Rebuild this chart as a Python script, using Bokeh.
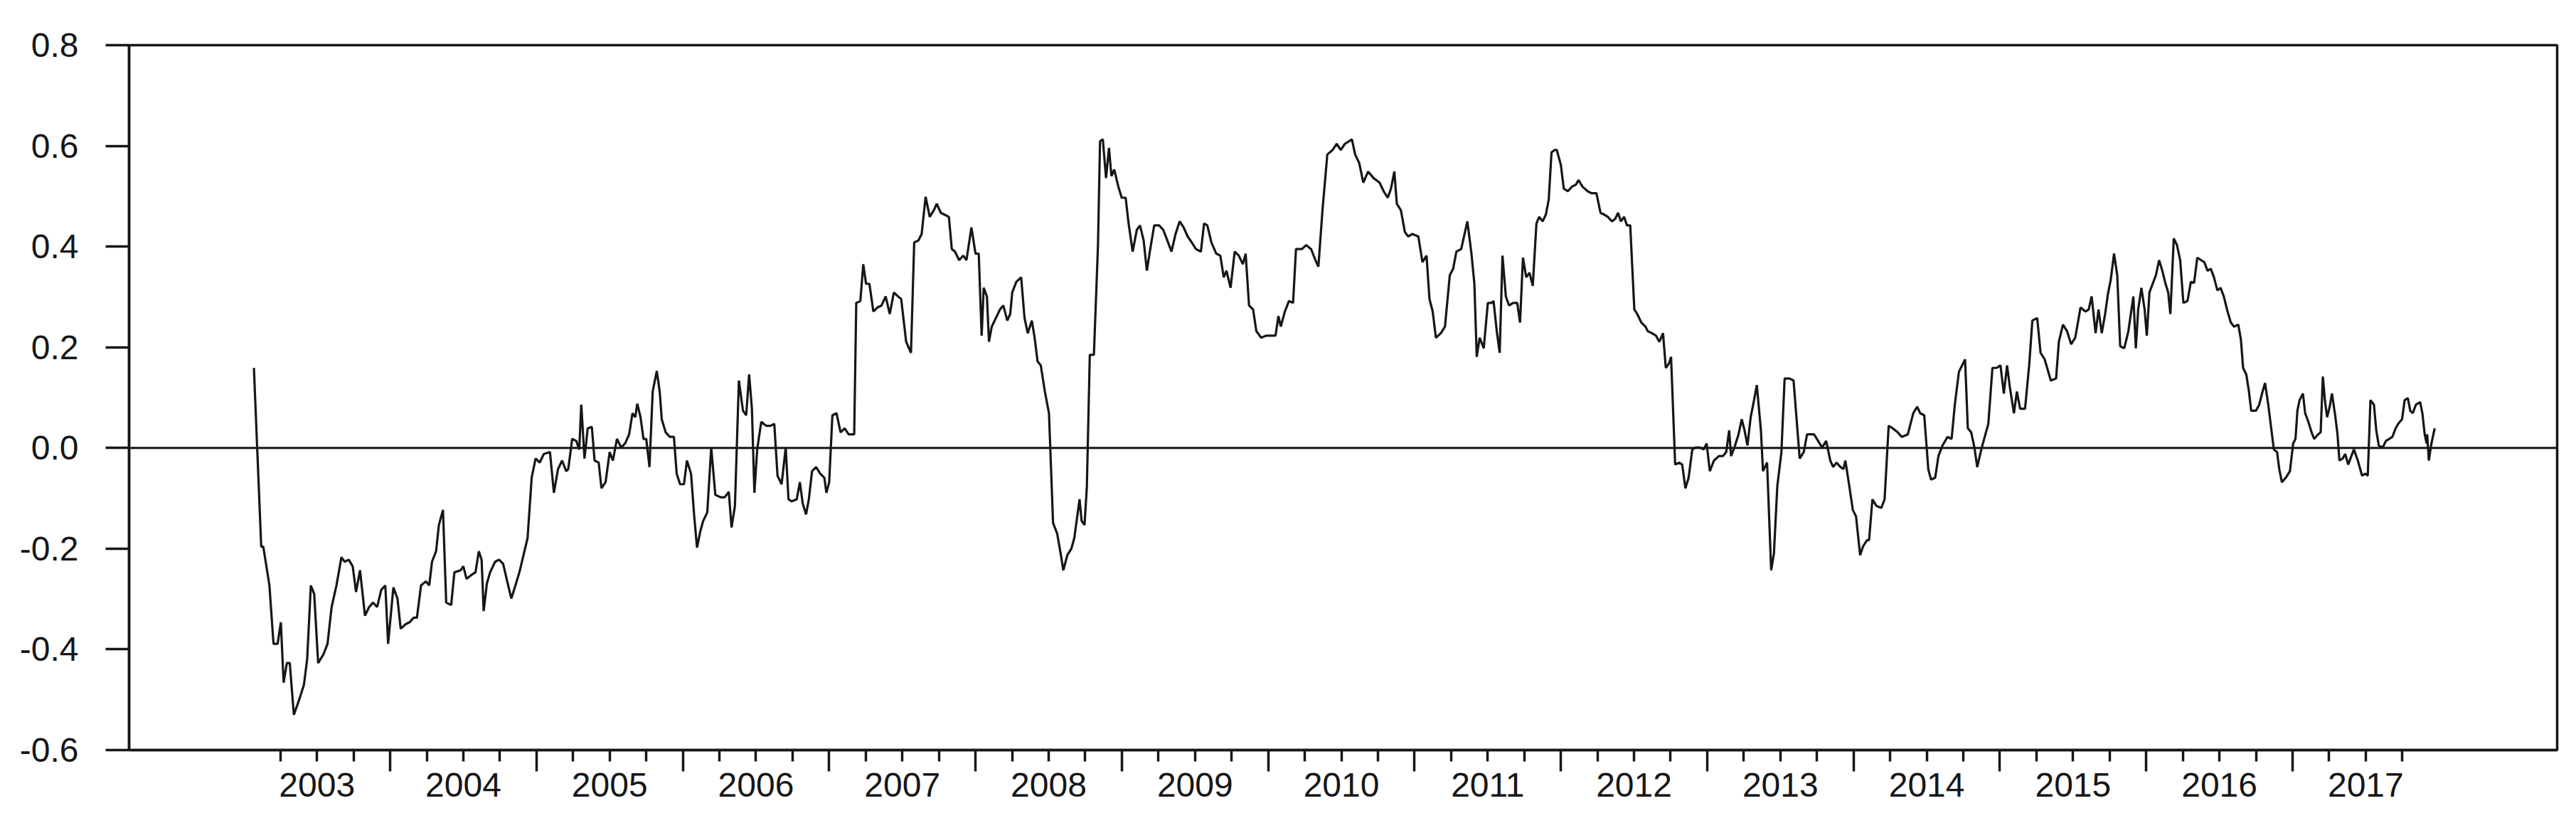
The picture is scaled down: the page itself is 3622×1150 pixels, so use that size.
from bokeh.plotting import figure
from bokeh.models import (LinearAxis, FixedTicker, NumeralTickFormatter,
                          CustomJSTickFormatter, Span, Range1d)
from bokeh.embed import file_html
from bokeh.resources import INLINE

# ---------------- data (decimal year, value) ----------------
year_labels = [str(y) for y in range(2003, 2018)]
y_ticks = [-0.6, -0.4, -0.2, 0.0, 0.2, 0.4, 0.6, 0.8]

t_2003_2006 = [2003.069, 2003.119, 2003.133, 2003.175, 2003.203, 2003.231, 2003.253, 2003.272, 2003.294, 2003.314,
               2003.342, 2003.383, 2003.411, 2003.433, 2003.458, 2003.481, 2003.508, 2003.544, 2003.572, 2003.600,
               2003.633, 2003.667, 2003.689, 2003.717, 2003.744, 2003.767, 2003.794, 2003.828, 2003.856, 2003.883,
               2003.911, 2003.939, 2003.967, 2003.986, 2004.022, 2004.050, 2004.072, 2004.106, 2004.133, 2004.161,
               2004.183, 2004.211, 2004.244, 2004.267, 2004.286, 2004.314, 2004.333, 2004.361, 2004.383, 2004.417,
               2004.439, 2004.481, 2004.500, 2004.522, 2004.556, 2004.583, 2004.606, 2004.625, 2004.639, 2004.661,
               2004.683, 2004.717, 2004.744, 2004.772, 2004.800, 2004.828, 2004.856, 2004.883, 2004.911, 2004.939,
               2004.967, 2004.994, 2005.022, 2005.050, 2005.092, 2005.119, 2005.147, 2005.175, 2005.203, 2005.217,
               2005.244, 2005.272, 2005.292, 2005.306, 2005.328, 2005.350, 2005.378, 2005.397, 2005.425, 2005.444,
               2005.472, 2005.500, 2005.522, 2005.550, 2005.578, 2005.606, 2005.633, 2005.656, 2005.675, 2005.689,
               2005.711, 2005.731, 2005.750, 2005.772, 2005.794, 2005.822, 2005.842, 2005.856, 2005.883, 2005.911,
               2005.939, 2005.958, 2005.981, 2006.008, 2006.028, 2006.056, 2006.078, 2006.097, 2006.119, 2006.139,
               2006.167, 2006.194, 2006.222, 2006.258, 2006.286, 2006.314, 2006.333, 2006.356, 2006.383, 2006.411,
               2006.433, 2006.453, 2006.472, 2006.489, 2006.508, 2006.536, 2006.569, 2006.600, 2006.625, 2006.647,
               2006.675, 2006.703, 2006.722, 2006.744, 2006.778, 2006.800, 2006.819, 2006.842, 2006.861, 2006.883,
               2006.911, 2006.939, 2006.967, 2006.981, 2007.000, 2007.022, 2007.050, 2007.078, 2007.106, 2007.133]
v_2003_2006 = [0.159, -0.196, -0.196, -0.273, -0.389, -0.389, -0.346, -0.466, -0.427, -0.427,
               -0.530, -0.496, -0.470, -0.419, -0.273, -0.290, -0.427, -0.410, -0.389, -0.316,
               -0.273, -0.217, -0.226, -0.222, -0.235, -0.286, -0.243, -0.333, -0.316, -0.307,
               -0.316, -0.282, -0.273, -0.389, -0.277, -0.299, -0.359, -0.350, -0.346, -0.337,
               -0.337, -0.273, -0.265, -0.273, -0.226, -0.205, -0.153, -0.123, -0.307, -0.312,
               -0.247, -0.243, -0.235, -0.260, -0.252, -0.247, -0.205, -0.222, -0.324, -0.269,
               -0.247, -0.226, -0.222, -0.230, -0.265, -0.299, -0.273, -0.247, -0.213, -0.179,
               -0.059, -0.021, -0.029, -0.012, -0.008, -0.089, -0.042, -0.025, -0.046, -0.042,
               0.018, 0.014, -0.003, 0.086, -0.021, 0.039, 0.042, -0.025, -0.029, -0.080,
               -0.068, -0.008, -0.025, 0.018, 0.001, 0.009, 0.027, 0.069, 0.061, 0.088,
               0.061, 0.018, 0.018, -0.038, 0.112, 0.153, 0.112, 0.057, 0.031, 0.022,
               0.022, -0.051, -0.072, -0.072, -0.025, -0.051, -0.136, -0.198, -0.166, -0.145,
               -0.128, 0.001, -0.093, -0.098, -0.098, -0.087, -0.158, -0.115, 0.134, 0.074,
               0.065, 0.146, 0.078, -0.089, -0.003, 0.052, 0.044, 0.044, 0.048, -0.055,
               -0.072, 0.001, -0.102, -0.106, -0.102, -0.068, -0.110, -0.132, -0.102, -0.046,
               -0.038, -0.051, -0.059, -0.089, -0.068, 0.065, 0.069, 0.031, 0.039, 0.027]

t_2007_2011 = [2007.171, 2007.185, 2007.213, 2007.233, 2007.252, 2007.275, 2007.302, 2007.330, 2007.358, 2007.386,
               2007.414, 2007.442, 2007.470, 2007.492, 2007.526, 2007.559, 2007.581, 2007.609, 2007.632, 2007.659,
               2007.687, 2007.715, 2007.735, 2007.763, 2007.791, 2007.818, 2007.838, 2007.860, 2007.888, 2007.916,
               2007.938, 2007.972, 2008.000, 2008.022, 2008.042, 2008.056, 2008.078, 2008.092, 2008.111, 2008.139,
               2008.167, 2008.190, 2008.217, 2008.237, 2008.251, 2008.279, 2008.312, 2008.335, 2008.357, 2008.385,
               2008.404, 2008.424, 2008.446, 2008.474, 2008.502, 2008.530, 2008.558, 2008.586, 2008.600, 2008.627,
               2008.655, 2008.675, 2008.711, 2008.725, 2008.745, 2008.761, 2008.781, 2008.809, 2008.837, 2008.851,
               2008.870, 2008.892, 2008.912, 2008.929, 2008.948, 2008.976, 2008.999, 2009.026, 2009.046, 2009.074,
               2009.102, 2009.124, 2009.149, 2009.171, 2009.194, 2009.221, 2009.255, 2009.283, 2009.311, 2009.339,
               2009.367, 2009.395, 2009.422, 2009.450, 2009.478, 2009.506, 2009.540, 2009.562, 2009.584, 2009.612,
               2009.645, 2009.673, 2009.696, 2009.715, 2009.743, 2009.771, 2009.799, 2009.827, 2009.846, 2009.869,
               2009.897, 2009.919, 2009.952, 2009.986, 2010.022, 2010.050, 2010.070, 2010.086, 2010.114, 2010.142,
               2010.170, 2010.190, 2010.231, 2010.259, 2010.293, 2010.323, 2010.343, 2010.371, 2010.404, 2010.441,
               2010.468, 2010.496, 2010.524, 2010.552, 2010.572, 2010.594, 2010.622, 2010.650, 2010.683, 2010.720,
               2010.761, 2010.789, 2010.817, 2010.839, 2010.862, 2010.879, 2010.907, 2010.934, 2010.957, 2010.985,
               2011.026, 2011.054, 2011.082, 2011.102, 2011.124, 2011.146, 2011.180, 2011.208, 2011.241, 2011.264,
               2011.286, 2011.319, 2011.361, 2011.389, 2011.409, 2011.425, 2011.445, 2011.473, 2011.501, 2011.528]
v_2007_2011 = [0.027, 0.288, 0.292, 0.365, 0.326, 0.326, 0.271, 0.279, 0.283, 0.301,
               0.266, 0.309, 0.301, 0.296, 0.211, 0.189, 0.408, 0.412, 0.425, 0.499,
               0.459, 0.472, 0.485, 0.467, 0.463, 0.459, 0.395, 0.390, 0.373, 0.382,
               0.373, 0.438, 0.386, 0.386, 0.223, 0.318, 0.301, 0.211, 0.241, 0.258,
               0.275, 0.283, 0.253, 0.266, 0.309, 0.330, 0.339, 0.258, 0.228, 0.253,
               0.219, 0.172, 0.164, 0.112, 0.069, -0.149, -0.170, -0.217, -0.243, -0.213,
               -0.200, -0.179, -0.102, -0.145, -0.153, -0.076, 0.185, 0.185, 0.403, 0.609,
               0.613, 0.536, 0.596, 0.540, 0.553, 0.519, 0.497, 0.497, 0.446, 0.390,
               0.433, 0.442, 0.412, 0.352, 0.395, 0.442, 0.442, 0.433, 0.412, 0.390,
               0.425, 0.450, 0.438, 0.420, 0.408, 0.395, 0.390, 0.446, 0.442, 0.408,
               0.386, 0.382, 0.339, 0.352, 0.318, 0.390, 0.382, 0.365, 0.386, 0.283,
               0.275, 0.232, 0.219, 0.223, 0.223, 0.223, 0.262, 0.241, 0.271, 0.292,
               0.288, 0.395, 0.395, 0.403, 0.395, 0.373, 0.360, 0.472, 0.583, 0.592,
               0.604, 0.592, 0.604, 0.609, 0.613, 0.583, 0.566, 0.527, 0.549, 0.536,
               0.527, 0.510, 0.497, 0.515, 0.549, 0.485, 0.472, 0.429, 0.420, 0.425,
               0.420, 0.369, 0.382, 0.296, 0.271, 0.219, 0.228, 0.241, 0.343, 0.356,
               0.390, 0.395, 0.450, 0.386, 0.326, 0.181, 0.219, 0.198, 0.288, 0.288]

t_2011_2015 = [2011.540, 2011.562, 2011.582, 2011.601, 2011.624, 2011.646, 2011.674, 2011.702, 2011.721, 2011.741,
               2011.763, 2011.785, 2011.808, 2011.833, 2011.852, 2011.875, 2011.897, 2011.917, 2011.936, 2011.958,
               2011.972, 2012.000, 2012.020, 2012.048, 2012.076, 2012.103, 2012.120, 2012.148, 2012.182, 2012.209,
               2012.243, 2012.271, 2012.299, 2012.321, 2012.349, 2012.371, 2012.391, 2012.410, 2012.432, 2012.452,
               2012.474, 2012.502, 2012.522, 2012.550, 2012.578, 2012.594, 2012.622, 2012.650, 2012.673, 2012.698,
               2012.717, 2012.739, 2012.753, 2012.781, 2012.809, 2012.829, 2012.851, 2012.873, 2012.898, 2012.921,
               2012.949, 2012.977, 2012.996, 2013.018, 2013.046, 2013.080, 2013.108, 2013.130, 2013.150, 2013.163,
               2013.186, 2013.214, 2013.236, 2013.255, 2013.275, 2013.297, 2013.320, 2013.339, 2013.367, 2013.381,
               2013.409, 2013.437, 2013.456, 2013.479, 2013.507, 2013.529, 2013.562, 2013.590, 2013.604, 2013.632,
               2013.660, 2013.682, 2013.702, 2013.730, 2013.758, 2013.785, 2013.813, 2013.841, 2013.861, 2013.883,
               2013.911, 2013.931, 2013.944, 2013.967, 2013.995, 2014.017, 2014.045, 2014.064, 2014.092, 2014.106,
               2014.129, 2014.156, 2014.190, 2014.212, 2014.240, 2014.268, 2014.302, 2014.329, 2014.371, 2014.408,
               2014.435, 2014.455, 2014.483, 2014.511, 2014.530, 2014.558, 2014.580, 2014.608, 2014.642, 2014.670,
               2014.692, 2014.720, 2014.762, 2014.781, 2014.804, 2014.826, 2014.845, 2014.873, 2014.901, 2014.921,
               2014.949, 2014.977, 2015.004, 2015.027, 2015.049, 2015.068, 2015.096, 2015.116, 2015.138, 2015.172,
               2015.200, 2015.222, 2015.255, 2015.278, 2015.306, 2015.348, 2015.384, 2015.403, 2015.431, 2015.459,
               2015.487, 2015.515, 2015.551, 2015.585, 2015.607, 2015.627, 2015.654, 2015.674, 2015.696, 2015.719,
               2015.738, 2015.758, 2015.780, 2015.802, 2015.822, 2015.850]
v_2011_2015 = [0.292, 0.232, 0.189, 0.382, 0.301, 0.283, 0.288, 0.288, 0.249, 0.378,
               0.339, 0.348, 0.322, 0.446, 0.459, 0.450, 0.463, 0.493, 0.587, 0.592,
               0.592, 0.562, 0.515, 0.510, 0.519, 0.523, 0.532, 0.519, 0.510, 0.506,
               0.506, 0.467, 0.463, 0.459, 0.450, 0.455, 0.467, 0.450, 0.459, 0.442,
               0.442, 0.275, 0.266, 0.249, 0.241, 0.232, 0.228, 0.223, 0.211, 0.228,
               0.159, 0.168, 0.181, -0.033, -0.029, -0.033, -0.080, -0.059, -0.003, 0.001,
               0.001, -0.003, 0.009, -0.046, -0.025, -0.016, -0.016, -0.008, 0.035, -0.016,
               0.001, 0.027, 0.057, 0.035, 0.005, 0.061, 0.095, 0.125, 0.035, -0.046,
               -0.029, -0.243, -0.209, -0.076, -0.008, 0.138, 0.138, 0.134, 0.082, -0.021,
               -0.008, 0.027, 0.027, 0.027, 0.014, 0.001, 0.014, -0.025, -0.038, -0.029,
               -0.038, -0.042, -0.025, -0.068, -0.123, -0.136, -0.213, -0.196, -0.183, -0.183,
               -0.102, -0.115, -0.119, -0.102, 0.044, 0.039, 0.031, 0.022, 0.027, 0.069,
               0.082, 0.069, 0.065, -0.043, -0.063, -0.059, -0.016, 0.005, 0.022, 0.018,
               0.086, 0.151, 0.176, 0.039, 0.031, 0.001, -0.038, -0.003, 0.027, 0.048,
               0.159, 0.159, 0.164, 0.108, 0.164, 0.121, 0.069, 0.112, 0.078, 0.078,
               0.164, 0.253, 0.258, 0.189, 0.176, 0.134, 0.138, 0.211, 0.245, 0.232,
               0.206, 0.219, 0.279, 0.271, 0.275, 0.301, 0.228, 0.275, 0.228, 0.266,
               0.305, 0.335, 0.386, 0.343, 0.202, 0.198]

t_2015_2017 = [2015.878, 2015.912, 2015.929, 2015.945, 2015.967, 2015.989, 2016.004, 2016.022, 2016.044, 2016.066,
               2016.088, 2016.110, 2016.132, 2016.150, 2016.165, 2016.188, 2016.210, 2016.232, 2016.254, 2016.282,
               2016.305, 2016.327, 2016.349, 2016.375, 2016.397, 2016.419, 2016.441, 2016.463, 2016.486, 2016.508,
               2016.530, 2016.552, 2016.578, 2016.600, 2016.629, 2016.647, 2016.662, 2016.684, 2016.702, 2016.717,
               2016.750, 2016.772, 2016.795, 2016.812, 2016.834, 2016.852, 2016.872, 2016.894, 2016.909, 2016.927,
               2016.954, 2016.982, 2017.004, 2017.020, 2017.033, 2017.048, 2017.071, 2017.086, 2017.108, 2017.130,
               2017.148, 2017.174, 2017.192, 2017.207, 2017.221, 2017.236, 2017.254, 2017.269, 2017.291, 2017.307,
               2017.320, 2017.342, 2017.360, 2017.380, 2017.402, 2017.419, 2017.446, 2017.475, 2017.497, 2017.514,
               2017.532, 2017.556, 2017.572, 2017.589, 2017.616, 2017.638, 2017.660, 2017.682, 2017.704, 2017.722,
               2017.733, 2017.748, 2017.766, 2017.788, 2017.804, 2017.821, 2017.843, 2017.872, 2017.887, 2017.903,
               2017.916, 2017.920, 2017.931, 2017.949, 2017.971]
v_2015_2017 = [0.232, 0.301, 0.198, 0.275, 0.318, 0.275, 0.223, 0.309, 0.326, 0.343,
               0.373, 0.352, 0.326, 0.309, 0.266, 0.416, 0.403, 0.373, 0.288, 0.292,
               0.330, 0.328, 0.378, 0.373, 0.369, 0.352, 0.356, 0.339, 0.313, 0.318,
               0.301, 0.275, 0.249, 0.241, 0.245, 0.215, 0.159, 0.146, 0.112, 0.074,
               0.074, 0.086, 0.112, 0.129, 0.086, 0.044, -0.003, -0.008, -0.042, -0.068,
               -0.059, -0.046, 0.009, 0.018, 0.074, 0.095, 0.108, 0.069, 0.052, 0.031,
               0.018, 0.027, 0.031, 0.142, 0.095, 0.061, 0.082, 0.108, 0.065, 0.027,
               -0.025, -0.021, -0.012, -0.033, -0.016, -0.003, -0.025, -0.055, -0.051, -0.055,
               0.095, 0.086, 0.035, 0.005, 0.001, 0.014, 0.018, 0.022, 0.039, 0.048,
               0.052, 0.057, 0.095, 0.099, 0.074, 0.069, 0.086, 0.091, 0.069, 0.027,
               0.009, 0.027, -0.025, 0.009, 0.039]

t_all = t_2003_2006 + t_2007_2011 + t_2011_2015 + t_2015_2017
v_all = v_2003_2006 + v_2007_2011 + v_2011_2015 + v_2015_2017

year_starts = list(range(2004, 2018))
quarter_ticks = [y + q for y in range(2003, 2018) for q in (0.25, 0.5, 0.75)]
mid_years = [int(s) + 0.5 for s in year_labels]

FONT = "Liberation Sans"
FSIZE = "48px"
INK = "#161616"

p = figure(width=3606, height=1134, output_backend="svg", toolbar_location=None,
           x_axis_type=None, y_axis_type=None,
           x_range=Range1d(2002.216, 2018.808), y_range=Range1d(-0.6, 0.8),
           min_border_left=181, min_border_right=11, min_border_top=63, min_border_bottom=80)
p.background_fill_color = "white"
p.border_fill_color = "white"
p.outline_line_color = INK
p.outline_line_width = 3.5

# y axis
ya = LinearAxis(ticker=FixedTicker(ticks=y_ticks), formatter=NumeralTickFormatter(format="0.0"))
ya.major_tick_out = 33
ya.major_tick_in = 0
ya.minor_tick_line_color = None
ya.major_tick_line_width = 3.5
ya.axis_line_width = 3.5
ya.axis_line_color = INK
ya.major_tick_line_color = INK
ya.major_label_standoff = 38
ya.major_label_text_font = FONT
ya.major_label_text_font_size = FSIZE
ya.major_label_text_color = INK
p.add_layout(ya, "left")

# x axis: tick marks (years long, quarters short)
xa = LinearAxis(ticker=FixedTicker(ticks=year_starts, minor_ticks=quarter_ticks),
                formatter=CustomJSTickFormatter(code="return '';"))
xa.major_tick_out = 30
xa.major_tick_in = 0
xa.minor_tick_out = 16
xa.minor_tick_in = 0
xa.major_tick_line_width = 3.5
xa.minor_tick_line_width = 3.5
xa.major_tick_line_color = INK
xa.minor_tick_line_color = INK
xa.axis_line_width = 3.5
xa.axis_line_color = INK
xa.major_label_text_font_size = "0px"
xa.major_label_standoff = 0
p.add_layout(xa, "below")

# x axis: year labels centred in each year
xl = LinearAxis(ticker=FixedTicker(ticks=mid_years),
                formatter=CustomJSTickFormatter(args=dict(labels=year_labels),
                                                code="return labels[Math.floor(tick) - 2003];"))
xl.axis_line_color = None
xl.major_tick_line_color = None
xl.minor_tick_line_color = None
xl.major_tick_out = 0
xl.major_tick_in = 0
xl.major_label_standoff = 2
xl.major_label_text_font = FONT
xl.major_label_text_font_size = FSIZE
xl.major_label_text_color = INK
p.add_layout(xl, "below")

p.add_layout(Span(location=0, dimension="width", line_color=INK, line_width=3))
p.line(t_all, v_all, line_color=INK, line_width=3.2)

open("out.html", "w").write(file_html(p, INLINE))
